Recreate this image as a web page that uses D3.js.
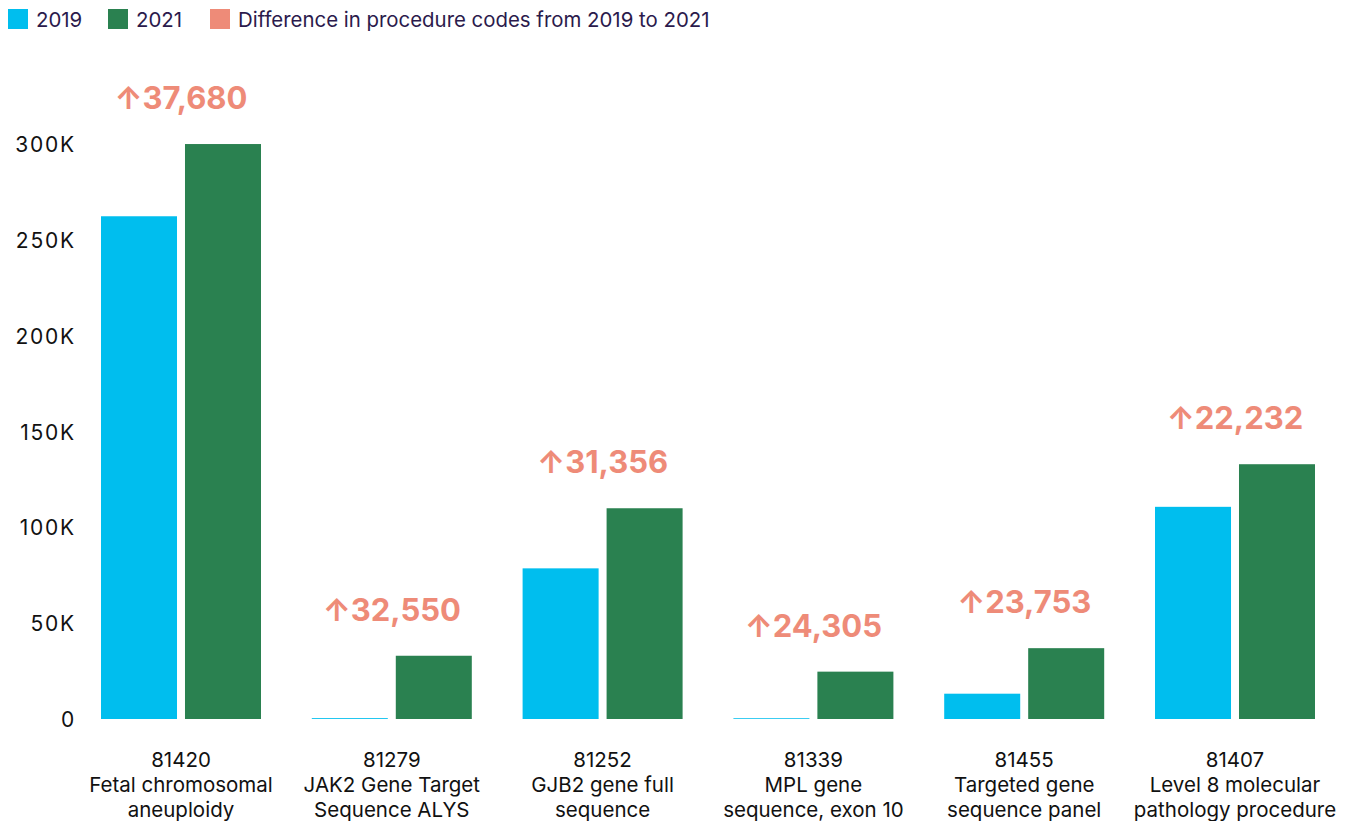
<!DOCTYPE html>
<html>
<head>
<meta charset="utf-8">
<script src="https://cdn.jsdelivr.net/npm/d3@7"></script>
<style>
  body { margin: 0; background: #fff; font-family: Inter, "Noto Sans", sans-serif; }
  svg { display: block; }
</style>
</head>
<body>
<div id="chart"></div>
<script>
const codes = ['81420', '81279', '81252', '81339', '81455', '81407'];
const names = [
  ['Fetal chromosomal', 'aneuploidy'],
  ['JAK2 Gene Target', 'Sequence ALYS'],
  ['GJB2 gene full', 'sequence'],
  ['MPL gene', 'sequence, exon 10'],
  ['Targeted gene', 'sequence panel'],
  ['Level 8 molecular', 'pathology procedure']
];
const values2019 = [262300, 450, 78600, 400, 13200, 110700];
const values2021 = [299980, 33000, 109956, 24705, 36953, 132932];
const diffs = [37680, 32550, 31356, 24305, 23753, 22232];
const yTicks = [0, 50000, 100000, 150000, 200000, 250000, 300000];

const w = 1353, h = 821;
const c2019 = '#00BEEE', c2021 = '#2A8150', cDiff = '#EE8B78';

const svg = d3.select('#chart').append('svg')
  .attr('width', w).attr('height', h);

const xScale = d3.scaleBand()
  .domain(codes)
  .range([101, 1315])
  .paddingInner(0.241)
  .paddingOuter(0);
const xSub = d3.scaleBand()
  .domain(['2019', '2021'])
  .range([0, xScale.bandwidth()])
  .paddingInner(0.095);
const yScale = d3.scaleLinear()
  .domain([0, 300000])
  .range([719, 144]);

// y axis
const yAxis = d3.axisLeft(yScale)
  .tickValues(yTicks)
  .tickSize(0)
  .tickPadding(0)
  .tickFormat(d => d === 0 ? '0' : (d / 1000) + 'K');
svg.append('g')
  .attr('transform', 'translate(76,0)')
  .call(yAxis)
  .call(g => g.select('.domain').remove())
  .selectAll('text')
  .attr('font-family', 'Inter, "Noto Sans", sans-serif')
  .attr('font-size', 21)
  .attr('letter-spacing', 1.8)
  .attr('fill', '#111')
  .attr('dy', '0.36em');

// bars
const groups = svg.selectAll('g.grp')
  .data(codes)
  .enter()
  .append('g')
  .attr('class', 'grp')
  .attr('transform', d => `translate(${xScale(d)},0)`);

groups.append('rect')
  .attr('x', xSub('2019'))
  .attr('width', xSub.bandwidth())
  .attr('y', (d, i) => yScale(values2019[i]))
  .attr('height', (d, i) => yScale(0) - yScale(values2019[i]))
  .attr('fill', c2019);

groups.append('rect')
  .attr('x', xSub('2021'))
  .attr('width', xSub.bandwidth())
  .attr('y', (d, i) => yScale(values2021[i]))
  .attr('height', (d, i) => yScale(0) - yScale(values2021[i]))
  .attr('fill', c2021);

// difference labels
groups.append('text')
  .attr('x', xScale.bandwidth() / 2)
  .attr('y', (d, i) => yScale(Math.max(values2019[i], values2021[i])) - 35)
  .attr('text-anchor', 'middle')
  .attr('font-size', 31)
  .attr('font-weight', 700)
  .attr('fill', cDiff)
  .text((d, i) => '\u2191' + d3.format(',')(diffs[i]));

// x labels
const xl = groups.append('text')
  .attr('text-anchor', 'middle')
  .attr('font-size', 20.5)
  .attr('fill', '#111');
xl.append('tspan').attr('x', xScale.bandwidth() / 2).attr('y', 767).text(d => d);
xl.append('tspan').attr('x', xScale.bandwidth() / 2).attr('y', 792).text((d, i) => names[i][0]);
xl.append('tspan').attr('x', xScale.bandwidth() / 2).attr('y', 817).text((d, i) => names[i][1]);

// legend
const legend = [
  { label: '2019', color: c2019, x: 8 },
  { label: '2021', color: c2021, x: 108 },
  { label: 'Difference in procedure codes from 2019 to 2021', color: cDiff, x: 210 }
];
const lg = svg.selectAll('g.leg')
  .data(legend)
  .enter()
  .append('g')
  .attr('class', 'leg')
  .attr('transform', d => `translate(${d.x},9)`);
lg.append('rect').attr('width', 20).attr('height', 20).attr('fill', d => d.color);
lg.append('text')
  .attr('x', 28).attr('y', 18)
  .attr('font-size', 20.4)
  .attr('fill', '#2B1A4C')
  .text(d => d.label);
</script>
</body>
</html>
